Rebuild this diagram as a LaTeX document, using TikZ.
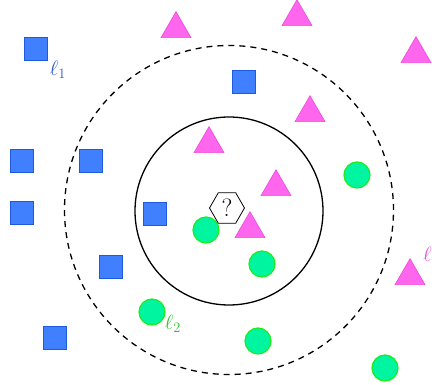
\documentclass[tikz,border=0pt]{standalone}
\usetikzlibrary{shapes.geometric}
\definecolor{sqfill}{RGB}{64,128,255}
\definecolor{sqdraw}{RGB}{30,90,220}
\definecolor{trfill}{RGB}{255,102,238}
\definecolor{trdraw}{RGB}{240,70,220}
\definecolor{cifill}{RGB}{0,245,160}
\definecolor{cidraw}{RGB}{30,235,30}
\definecolor{lblue}{RGB}{40,90,210}
\definecolor{lgreen}{RGB}{40,200,40}
\definecolor{lmag}{RGB}{230,80,220}
\tikzset{
  sq/.style={rectangle,draw=sqdraw,fill=sqfill,minimum size=23pt,inner sep=0pt,line width=0.8pt},
  tri/.style={regular polygon,regular polygon sides=3,draw=trdraw,fill=trfill,minimum size=34.6pt,inner sep=0pt,line width=0.6pt},
  dot/.style={circle,draw=cidraw,fill=cifill,minimum size=26pt,inner sep=0pt,line width=1.2pt},
  hex/.style={regular polygon,regular polygon sides=6,draw=black,fill=white,minimum size=35pt,inner sep=0pt,line width=0.8pt,font=\fontsize{25}{28}\selectfont},
  lbl/.style={inner sep=0pt,font=\fontsize{21}{25}\selectfont},
}
\begin{document}
\begin{tikzpicture}[x=1pt,y=-1pt]
\useasboundingbox (0,0) rectangle (432,385);
% circles
\node[circle,draw=black,line width=1.3pt,minimum size=188pt,inner sep=0pt] (inner) at (229,211) {};
\node[circle,draw=black,line width=1.3pt,dash pattern=on 6pt off 5pt,minimum size=329pt,inner sep=0pt] (outer) at (229,210) {};
% squares
\node[sq] (s1) at (36,49) {};
\node[sq] (s2) at (244,82) {};
\node[sq] (s3) at (22,161) {};
\node[sq] (s4) at (91,161) {};
\node[sq] (s5) at (22,213) {};
\node[sq] (s6) at (155,214) {};
\node[sq] (s7) at (111,267) {};
\node[sq] (s8) at (55,338) {};
% triangles
\node[tri] (t1) at (176,29) {};
\node[tri] (t2) at (297,17) {};
\node[tri] (t3) at (416,54) {};
\node[tri] (t4) at (310,113) {};
\node[tri] (t5) at (209,144) {};
\node[tri] (t6) at (276,187) {};
\node[tri] (t7) at (250,229) {};
\node[tri] (t8) at (410,276) {};
% green dots
\node[dot] (c1) at (357,175) {};
\node[dot] (c2) at (206,230) {};
\node[dot] (c3) at (262,264) {};
\node[dot] (c4) at (152,312) {};
\node[dot] (c5) at (258,341) {};
\node[dot] (c6) at (385,368) {};
% query
\node[hex] (q) at (227,208) {?};
% labels
\node[lbl,text=lblue] (l1) at (58,70) {$\ell_1$};
\node[lbl,text=lgreen] (l2) at (173,324) {$\ell_2$};
\node[lbl,text=lmag,anchor=west] (l3) at (423,256) {$\ell_3$};
\end{tikzpicture}
\end{document}
